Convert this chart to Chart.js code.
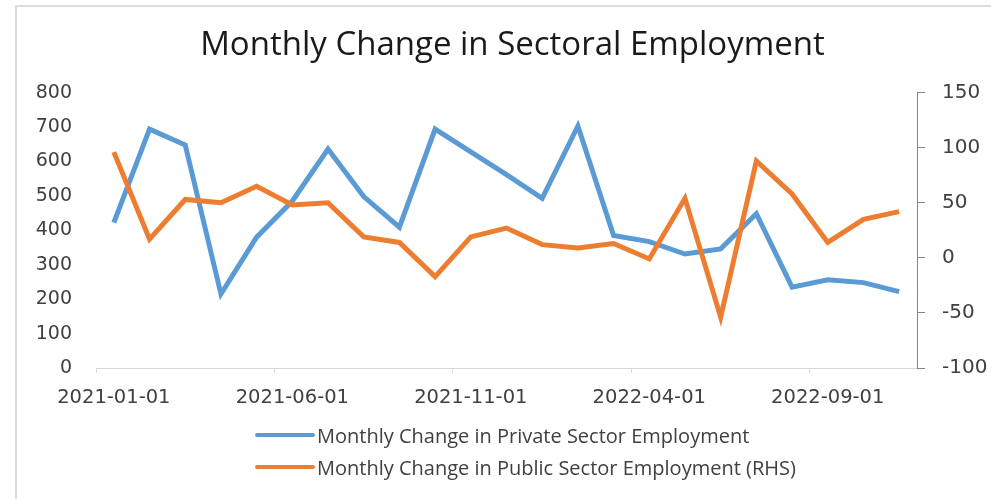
<!DOCTYPE html>
<html lang="en">
<head>
  <meta charset="UTF-8" />
  <title>Monthly Change in Sectoral Employment</title>
  <script src="https://cdn.jsdelivr.net/npm/chart.js"></script>
  <style>
    body {
      margin: 0;
      background: #fff;
      overflow: hidden;
    }

    .wrap {
      position: relative;
      width: 991px;
      height: 499px;
    }

    .frame {
      position: absolute;
      left: 15px;
      top: 5px;
      right: 0;
      bottom: 0;
      border-left: 2px solid #dcdcdc;
      border-top: 2px solid #dcdcdc;
    }

    .legend {
      position: absolute;
      left: 255px;
      top: 419px;
      font-family: 'Open Sans', sans-serif;
      font-size: 20px;
      color: #404040;
    }

    .legend div {
      display: flex;
      align-items: center;
      height: 32px;
    }

    .legend span.swatch {
      display: inline-block;
      width: 60px;
      height: 4px;
      border-radius: 2px;
      margin-right: 2px;
    }
  </style>
</head>
<body>
  <div class="wrap">
    <div class="frame"></div>
    <canvas id="employmentChart"></canvas>
    <div class="legend" id="legend"></div>
  </div>

  <script>
    const months = [
      '2021-01-01', '2021-02-01', '2021-03-01', '2021-04-01', '2021-05-01', '2021-06-01',
      '2021-07-01', '2021-08-01', '2021-09-01', '2021-10-01', '2021-11-01', '2021-12-01',
      '2022-01-01', '2022-02-01', '2022-03-01', '2022-04-01', '2022-05-01', '2022-06-01',
      '2022-07-01', '2022-08-01', '2022-09-01', '2022-10-01', '2022-11-01'
    ];
    const privateSector = [422, 694, 648, 215, 380, 485, 636, 498, 409, 694, 628, 562, 493, 703, 385, 367, 331, 346, 448, 235, 256, 248, 222];
    const publicSector = [96, 17, 53, 50, 65, 48, 50, 19, 14, -17, 19, 27, 12, 9, 13, -1, 54, -54, 88, 58, 14, 35, 42];

    const privateLabel = 'Monthly Change in Private Sector Employment';
    const publicLabel = 'Monthly Change in Public Sector Employment (RHS)';
    const blue = '#5b9bd5';
    const orange = '#ed7d31';

    const canvas = document.getElementById('employmentChart');
    canvas.width = 991;
    canvas.height = 499;

    new Chart(canvas, {
      type: 'line',
      data: {
        labels: months,
        datasets: [
          {
            label: privateLabel,
            data: privateSector,
            borderColor: blue,
            borderWidth: 5,
            pointRadius: 0,
            tension: 0,
            yAxisID: 'y',
            order: 1
          },
          {
            label: publicLabel,
            data: publicSector,
            borderColor: orange,
            borderWidth: 5,
            pointRadius: 0,
            tension: 0,
            yAxisID: 'y2',
            order: 0
          }
        ]
      },
      options: {
        responsive: false,
        animation: false,
        layout: {
          padding: { left: 34, right: 0, top: 0, bottom: 91 }
        },
        plugins: {
          legend: { display: false },
          tooltip: { enabled: false },
          title: {
            display: true,
            text: 'Monthly Change in Sectoral Employment',
            color: '#1a1a1a',
            font: { family: 'Open Sans', size: 33, weight: 'normal' },
            padding: { top: 26, bottom: 27 }
          }
        },
        scales: {
          x: {
            offset: true,
            border: { display: true, color: '#d9d9d9', width: 1 },
            grid: {
              offset: true,
              drawOnChartArea: false,
              tickLength: 5,
              color: ctx => (ctx.index % 5 === 0 ? '#d9d9d9' : 'transparent')
            },
            ticks: {
              autoSkip: false,
              maxRotation: 0,
              padding: 13,
              color: '#404040',
              font: { family: 'DejaVu Sans', size: 19.5 },
              callback: (val, i) => (i % 5 === 0 ? months[i] : '')
            },
            afterFit: scale => { scale.height = 40; }
          },
          y: {
            position: 'left',
            min: 0,
            max: 800,
            border: { display: false },
            grid: { display: false, drawTicks: false },
            ticks: {
              stepSize: 100,
              padding: 24,
              color: '#404040',
              font: { family: 'DejaVu Sans', size: 19 }
            },
            afterFit: scale => { scale.width = 62; }
          },
          y2: {
            position: 'right',
            min: -100,
            max: 150,
            border: { display: true, color: '#868686', width: 1 },
            grid: { drawOnChartArea: false, tickLength: 8, color: '#868686' },
            ticks: {
              stepSize: 50,
              padding: 17,
              color: '#404040',
              font: { family: 'DejaVu Sans', size: 20 }
            },
            afterFit: scale => { scale.width = 74; }
          }
        }
      }
    });

    // simple html legend, two rows like the original
    const legend = document.getElementById('legend');
    [[privateLabel, blue], [publicLabel, orange]].forEach(([text, color]) => {
      const row = document.createElement('div');
      row.innerHTML = '<span class="swatch" style="background:' + color + '"></span>' + text;
      legend.appendChild(row);
    });
  </script>
</body>
</html>
